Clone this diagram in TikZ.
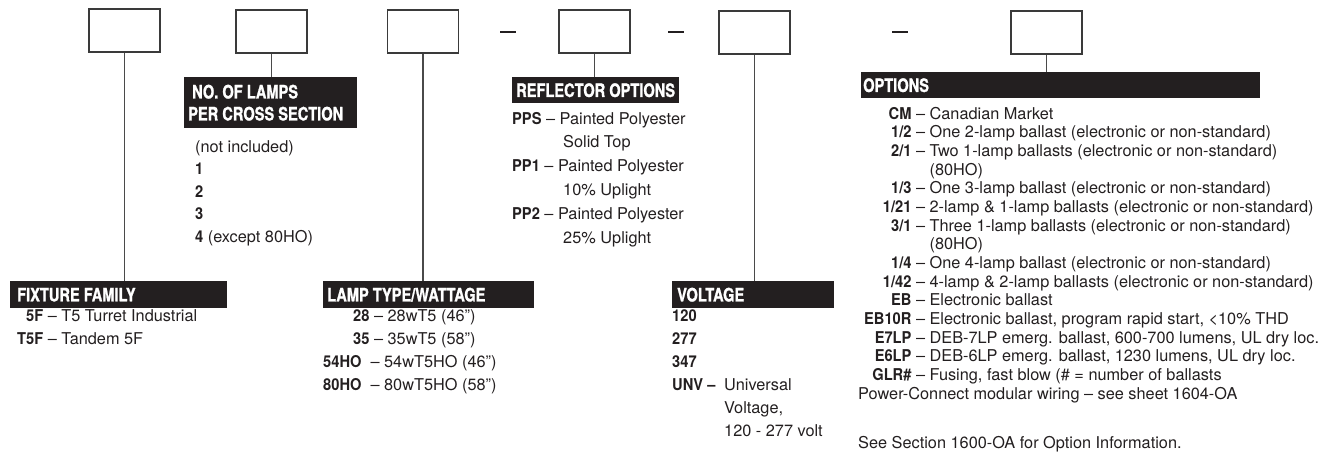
\documentclass[tikz,border=0pt]{standalone}
\usepackage{fontspec}
\setmainfont{TeX Gyre Heros}[BoldFeatures={FakeStretch=0.9}]
\newfontfamily\hdrfont{TeX Gyre Heros}[BoldFeatures={FakeStretch=0.79,FakeBold=1.2}]
\definecolor{barc}{HTML}{231F20}
\definecolor{boxc}{HTML}{3A3A3A}
\definecolor{linec}{HTML}{4A4A4A}
\begin{document}
\begin{tikzpicture}[x=1pt,y=-1pt,
  box/.style={draw=boxc, line width=1.3pt, minimum width=71, minimum height=43, inner sep=0},
  bar/.style={fill=barc, anchor=north west, inner sep=0},
  hdr/.style={text=white, anchor=west, inner sep=0, align=left,
    font=\hdrfont\bfseries\fontsize{18.5}{22}\selectfont},
  body/.style={anchor=base west, inner sep=0, text=barc},
  conn/.style={draw=linec, line width=1.1pt},
  sepdash/.style={fill=barc, minimum width=16, minimum height=2.4, inner sep=0}]
\useasboundingbox (0,0) rectangle (1327,451);
% code boxes
\node[box] (b1) at (124.5,30.5) {};
\node[box] (b2) at (271.5,31.5) {};
\node[box] (b3) at (423,31.5) {};
\node[box] (b4) at (594.5,31.5) {};
\node[box] (b5) at (754.5,32.5) {};
\node[box] (b6) at (1046.5,32.5) {};
% separators
\node[sepdash] (d1) at (508,32) {};
\node[sepdash] (d2) at (675.5,32) {};
\node[sepdash] (d3) at (900,32) {};
% header bars
\node[bar, minimum width=217, minimum height=27] (fixbar) at (10,281) {};
\node[bar, minimum width=173, minimum height=51] (nobar) at (184,77) {};
\node[bar, minimum width=211, minimum height=27] (lampbar) at (323,281) {};
\node[bar, minimum width=167, minimum height=26] (reflbar) at (512,77) {};
\node[bar, minimum width=162, minimum height=27] (voltbar) at (672,281) {};
\node[bar, minimum width=399, minimum height=26] (optbar) at (861,72) {};
% header texts
\node[hdr] (fixhdr) at ([xshift=7pt]fixbar.west) {FIXTURE FAMILY};
\node[hdr] (nohdr) at ([xshift=4pt]nobar.west) {\hspace*{4pt}NO. OF LAMPS\\PER CROSS SECTION};
\node[hdr] (lamphdr) at ([xshift=4pt]lampbar.west) {LAMP TYPE/WATTAGE};
\node[hdr] (reflhdr) at ([xshift=4pt]reflbar.west) {REFLECTOR OPTIONS};
\node[hdr] (volthdr) at ([xshift=5pt]voltbar.west) {VOLTAGE};
\node[hdr] (opthdr) at ([xshift=2pt]optbar.west) {OPTIONS};
% connectors
\draw[conn] (b1.south) -- (b1.south |- fixbar.north);
\draw[conn] (b2.south) -- (b2.south |- nobar.north);
\draw[conn] (b3.south) -- (b3.south |- lampbar.north);
\draw[conn] (b4.south) -- (b4.south |- reflbar.north);
\draw[conn] (b5.south) -- (b5.south |- voltbar.north);
\draw[conn] (b6.south) -- (b6.south |- optbar.north);
% lists
\node[body, font=\fontsize{16.3}{23}\selectfont] (fixlist) at (17,321)
  {\begin{tabular}[t]{@{}r@{}l@{}}\textbf{5F} & \ -- T5 Turret Industrial\\ \textbf{T5F} & \ -- Tandem 5F\end{tabular}};
\node[body, font=\fontsize{16.3}{22.5}\selectfont] (nolist) at (195,152)
  {\begin{tabular}[t]{@{}l@{}}(not included)\\ \textbf{1}\\ \textbf{2}\\ \textbf{3}\\ \textbf{4} (except 80HO)\end{tabular}};
\node[body, font=\fontsize{16.3}{23.8}\selectfont] (refllist) at (512,124)
  {\begin{tabular}[t]{@{}l@{}}\textbf{PPS} -- Painted Polyester\\ \hspace*{51pt}Solid Top\\
   \textbf{PP1} -- Painted Polyester\\ \hspace*{51pt}10\% Uplight\\
   \textbf{PP2} -- Painted Polyester\\ \hspace*{51pt}25\% Uplight\end{tabular}};
\node[body, font=\fontsize{16.3}{23}\selectfont] (lamplist) at (323,321)
  {\begin{tabular}[t]{@{}l@{}}\hspace*{30pt}\textbf{28} -- 28wT5 (46")\\ \hspace*{30pt}\textbf{35} -- 35wT5 (58")\\
   \textbf{54HO}\ \ -- 54wT5HO (46")\\ \textbf{80HO}\ \ -- 80wT5HO (58")\end{tabular}};
\node[body, font=\fontsize{16.3}{23}\selectfont] (voltlist) at (672,321)
  {\begin{tabular}[t]{@{}l@{}}\textbf{120}\\ \textbf{277}\\ \textbf{347}\\
   \makebox[52pt][l]{\textbf{UNV --}}Universal\\ \hspace*{52pt}Voltage,\\ \hspace*{52pt}120 - 277 volt\end{tabular}};
\node[body, font=\fontsize{16.3}{18.67}\selectfont] (optlist) at (864,119)
  {\begin{tabular}[t]{@{}r@{}l@{}}
   \textbf{CM} & \ -- Canadian Market\\
   \textbf{1/2} & \ -- One 2-lamp ballast (electronic or non-standard)\\
   \textbf{2/1} & \ -- Two 1-lamp ballasts (electronic or non-standard)\\
    & \phantom{\ -- }(80HO)\\
   \textbf{1/3} & \ -- One 3-lamp ballast (electronic or non-standard)\\
   \textbf{1/21} & \ -- 2-lamp \& 1-lamp ballasts (electronic or non-standard)\\
   \textbf{3/1} & \ -- Three 1-lamp ballasts (electronic or non-standard)\\
    & \phantom{\ -- }(80HO)\\
   \textbf{1/4} & \ -- One 4-lamp ballast (electronic or non-standard)\\
   \textbf{1/42} & \ -- 4-lamp \& 2-lamp ballasts (electronic or non-standard)\\
   \textbf{EB} & \ -- Electronic ballast\\
   \textbf{EB10R} & \ -- Electronic ballast, program rapid start, <10\% THD\\
   \textbf{E7LP} & \ -- DEB-7LP emerg. ballast, 600-700 lumens, UL dry loc.\\
   \textbf{E6LP} & \ -- DEB-6LP emerg. ballast, 1230 lumens, UL dry loc.\\
   \textbf{GLR\#} & \ -- Fusing, fast blow (\# = number of ballasts\\
   \multicolumn{2}{@{}l@{}}{\hspace*{-6pt}Power-Connect modular wiring -- see sheet 1604-OA}
  \end{tabular}};
\node[body, font=\fontsize{16.3}{23}\selectfont] (seenote) at (858,448) {See Section 1600-OA for Option Information.};
\end{tikzpicture}
\end{document}
